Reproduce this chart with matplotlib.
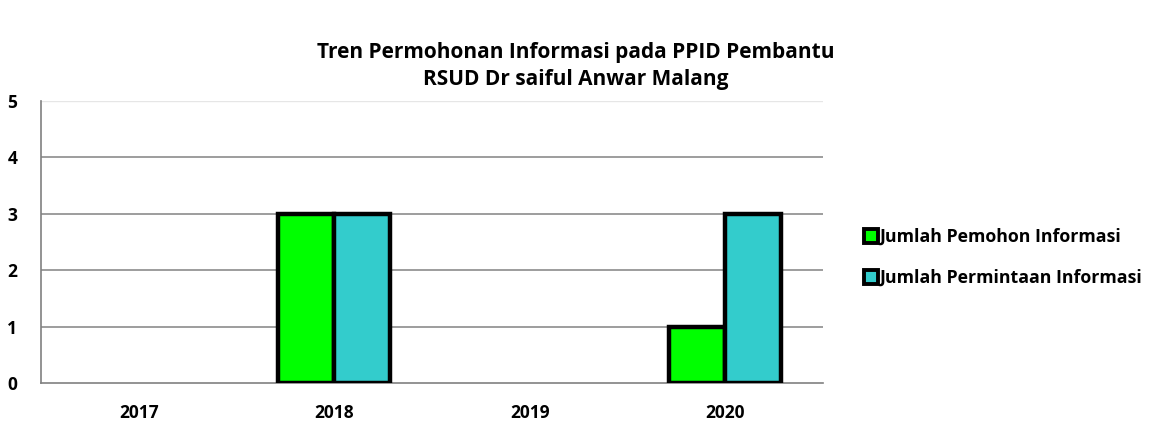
import matplotlib.pyplot as plt
from matplotlib.lines import Line2D
import numpy as np

plt.rcParams['font.family'] = ['Open Sans', 'DejaVu Sans']
plt.rcParams['font.weight'] = 'bold'

years = ['2017', '2018', '2019', '2020']
pemohon = [0, 3, 0, 1]
permintaan = [0, 3, 0, 3]
labels = ['Jumlah Pemohon Informasi', 'Jumlah Permintaan Informasi']
colors = ['#00FF00', '#33CCCC']

fig = plt.figure(figsize=(11.51, 4.21), dpi=100)
ax = fig.add_axes([0.0356, 0.0903, 0.6795, 0.6697])

x = np.arange(len(years))
w = 0.286
for vals, off, c in [(pemohon, -w / 2, colors[0]), (permintaan, w / 2, colors[1])]:
    lw = [3.2 if v > 0 else 0 for v in vals]
    ax.bar(x + off, vals, w, color=c, edgecolor='black', linewidth=lw, zorder=3)

ax.set_xlim(-0.5, 3.5)
ax.set_ylim(0, 5)
ax.set_xticks(x)
ax.set_xticklabels(years, fontsize=12.5, fontweight='bold')
ax.set_yticks(range(6))
ax.set_yticklabels([str(i) for i in range(6)], fontsize=12.5, fontweight='bold')
ax.tick_params(axis='x', length=0, pad=15)
ax.tick_params(axis='y', length=0, pad=17)
for i in range(1, 5):
    ax.axhline(i, color='#8c8c8c', lw=1.2, zorder=1)
ax.axhline(5, color='#e6e6e6', lw=1, zorder=1)
for s in ['top', 'right']:
    ax.spines[s].set_visible(False)
ax.spines['left'].set_color('#808080')
ax.spines['bottom'].set_color('#808080')
ax.spines['left'].set_linewidth(1.2)
ax.spines['bottom'].set_linewidth(1.2)

fig.suptitle('Tren Permohonan Informasi pada PPID Pembantu\nRSUD Dr saiful Anwar Malang',
             x=0.5, y=0.90, fontsize=15, fontweight='bold', linespacing=1.4)

handles = [Line2D([], [], marker='s', ls='', markersize=10, markerfacecolor=c,
                  markeredgecolor='black', markeredgewidth=2.8) for c in colors]
fig.legend(handles, labels, loc='center left', bbox_to_anchor=(0.741, 0.388),
           frameon=False, fontsize=12.8, handletextpad=0.0, labelspacing=1.3,
           handlelength=1.0, borderpad=0)

fig.savefig('out.png', dpi=100)
